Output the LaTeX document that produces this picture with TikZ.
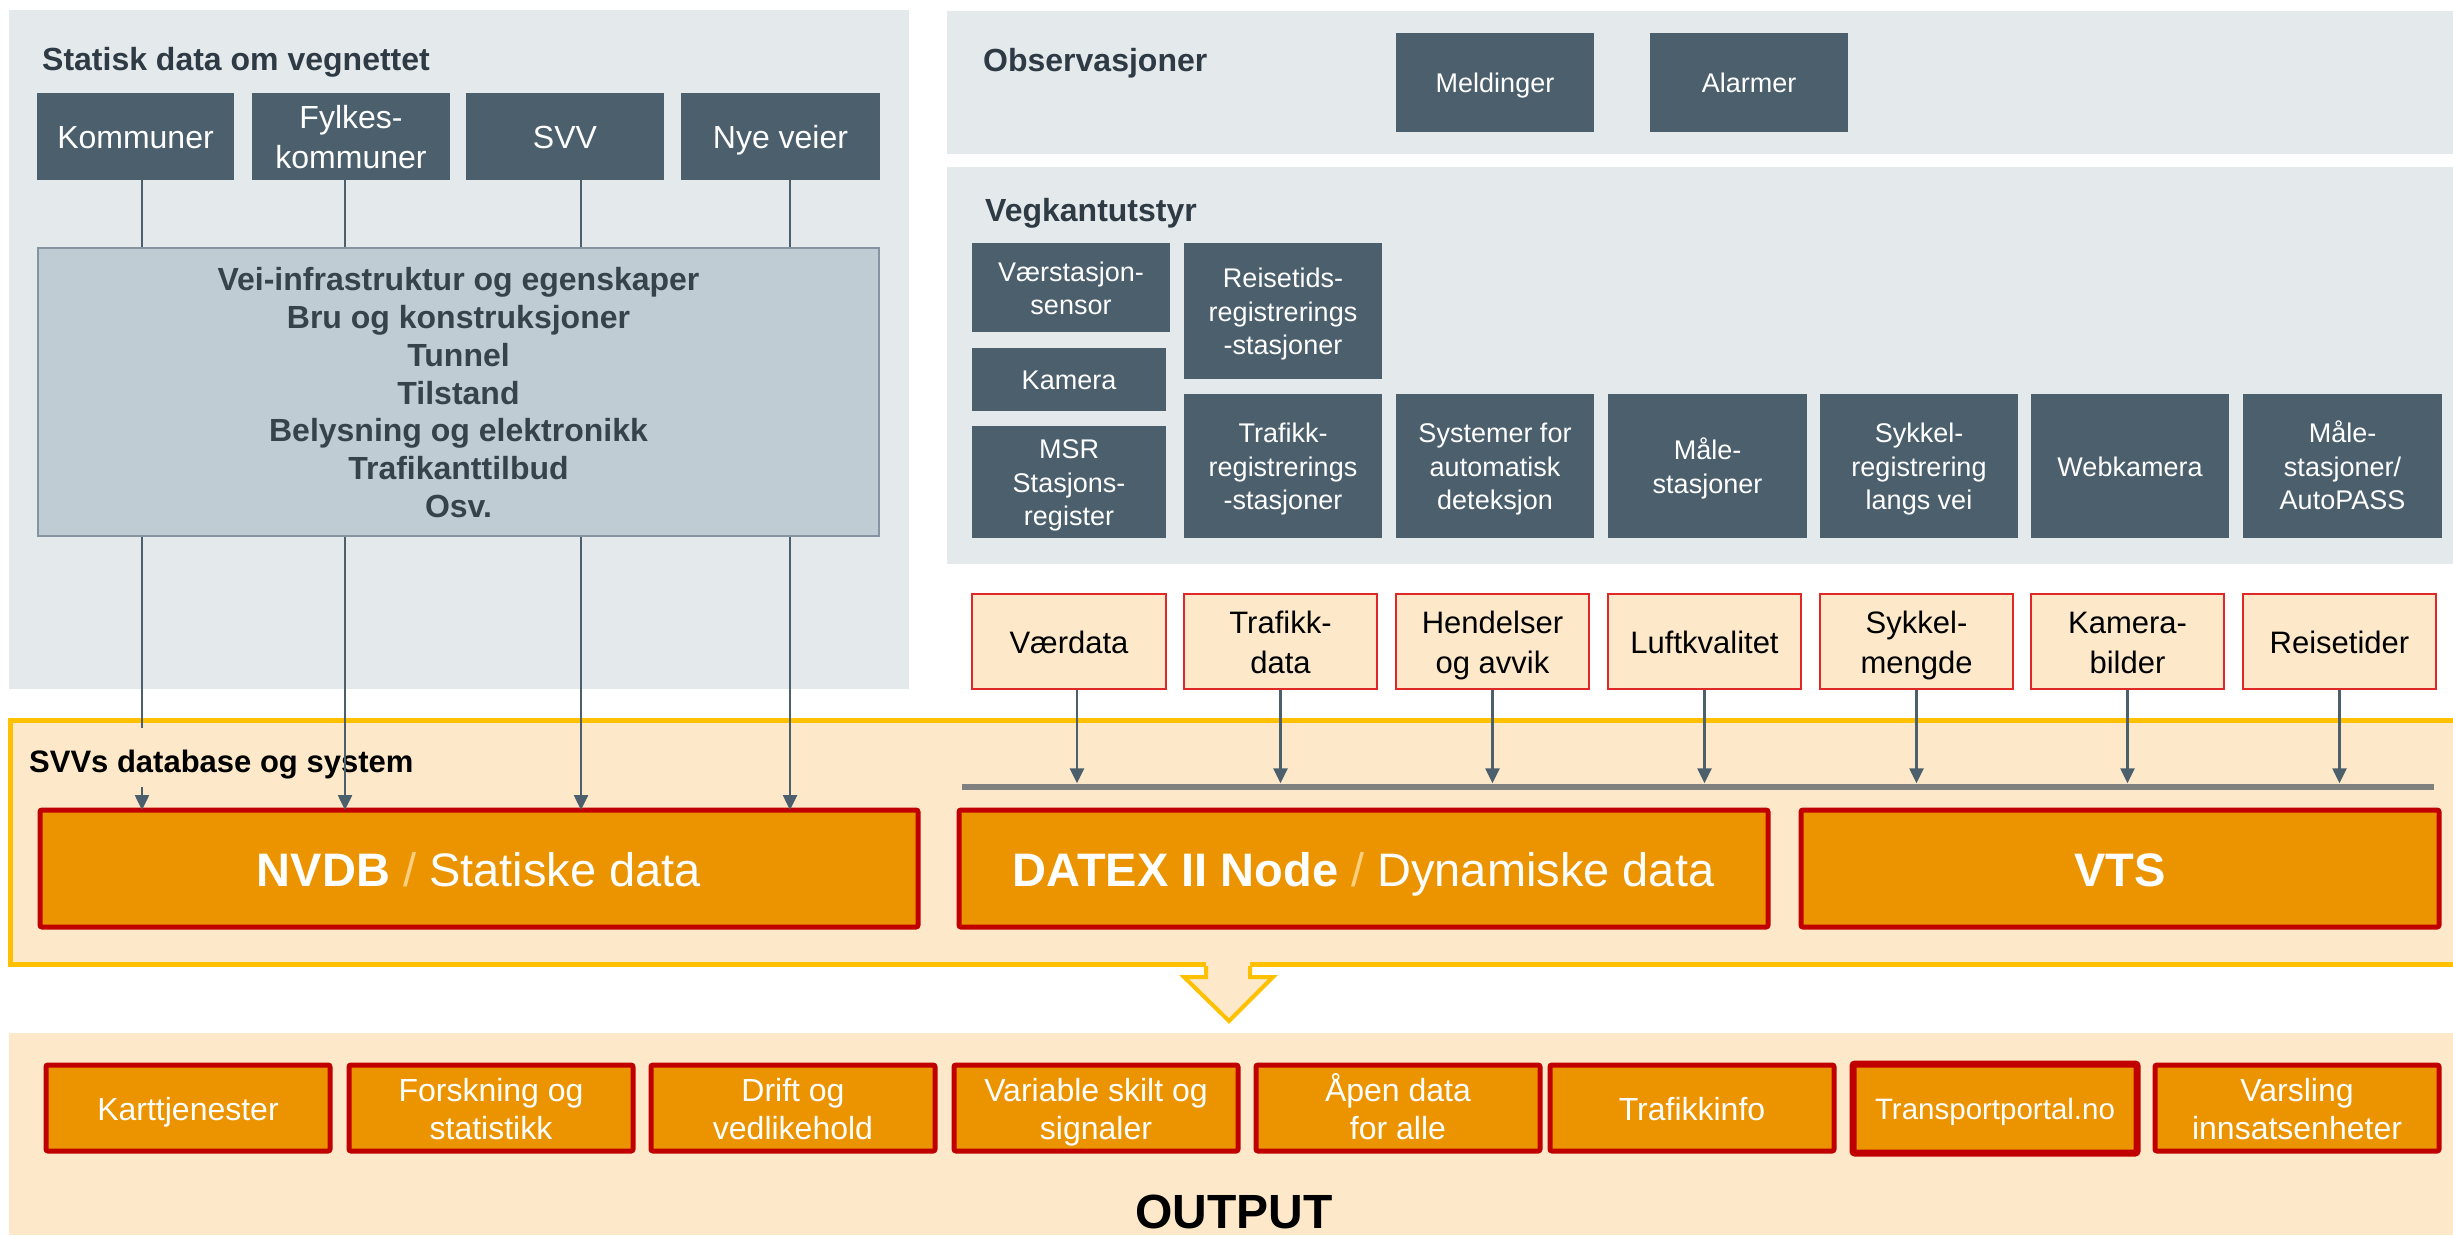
\documentclass[tikz,border=0pt]{standalone}
\usepackage{fontspec}
\setmainfont{Liberation Sans}
\usetikzlibrary{arrows.meta}
\definecolor{panel}{HTML}{E4E9EC}
\definecolor{slate}{HTML}{4B5F6D}
\definecolor{bigbox}{HTML}{BFCCD4}
\definecolor{bigborder}{HTML}{8494A0}
\definecolor{titletxt}{HTML}{2E3A44}
\definecolor{bigtxt}{HTML}{37434B}
\definecolor{peach}{HTML}{FDE9C9}
\definecolor{ybord}{HTML}{FFC000}
\definecolor{orangef}{HTML}{EC9400}
\definecolor{dred}{HTML}{C00000}
\definecolor{pbord}{HTML}{E02828}
\definecolor{barg}{HTML}{808080}
\definecolor{slashc}{HTML}{FFCF80}
\newcommand\tx[1]{\raisebox{-0.14em}[\height][\depth]{\begin{tabular}{@{}c@{}}#1\end{tabular}}}
\newcommand\mybox[7]{\node[#1, minimum width={#5-#3}, minimum height={#6-#4}] (#2) at ({(#3+#5)/2},{(#4+#6)/2}) {\tx{#7}};}
\begin{document}
\begin{tikzpicture}[x=1pt,y=-1pt,
  titlelbl/.style={anchor=base west, inner sep=0pt, font=\fontsize{32}{38}\selectfont\bfseries, text=titletxt},
  topbox/.style={fill=slate, text=white, inner sep=0pt, font=\fontsize{32}{40}\selectfont},
  darkbox/.style={fill=slate, text=white, inner sep=0pt, font=\fontsize{27}{33.5}\selectfont},
  bigboxst/.style={fill=bigbox, draw=bigborder, line width=2pt, inner sep=0pt, text=bigtxt, font=\fontsize{32}{37.8}\selectfont\bfseries},
  peachbox/.style={fill=peach, draw=pbord, line width=1.5pt, inner sep=0pt, text=black, font=\fontsize{31}{40}\selectfont},
  orangebig/.style={fill=orangef, draw=dred, line width=5pt, rounded corners=2pt, inner sep=0pt, text=white, font=\fontsize{47}{56}\selectfont},
  outbox/.style={fill=orangef, draw=dred, line width=5pt, rounded corners=2pt, inner sep=0pt, text=white, font=\fontsize{32}{38}\selectfont},
  conn/.style={draw=slate, line width=2.5pt},
  arr/.style={conn, -{Triangle[length=15pt,width=14pt]}}
]
\useasboundingbox (0,0) rectangle (2453,1235);
\clip (0,0) rectangle (2453,1235);
% panels
\fill[panel] (9,10) rectangle (909,689);
\fill[panel] (947,11) rectangle (2453,154);
\fill[panel] (947,167) rectangle (2453,564);
\draw[ybord, line width=5pt, fill=peach] (10,720) rectangle (2475,964);
\fill[peach] (9,1033) rectangle (2453,1235);
% titles
\node[titlelbl] (t1) at (42,70) {Statisk data om vegnettet};
\node[titlelbl] (t2) at (983,71) {Observasjoner};
\node[titlelbl] (t3) at (985,221) {Vegkantutstyr};
\node[titlelbl, text=black, font=\fontsize{31}{38}\selectfont\bfseries] (t4) at (29,772) {SVVs database og system};
% left top boxes
\mybox{topbox}{kom}{37}{93}{234}{180}{Kommuner}
\mybox{topbox}{fyl}{252}{93}{450}{180}{Fylkes-\\kommuner}
\mybox{topbox}{svv}{466}{93}{664}{180}{SVV}
\mybox{topbox}{nye}{681}{93}{880}{180}{Nye veier}
\mybox{bigboxst}{vei}{38}{248}{879}{536}{Vei-infrastruktur og egenskaper\\Bru og konstruksjoner\\Tunnel\\Tilstand\\Belysning og elektronikk\\Trafikanttilbud\\Osv.}
% connectors top
\draw[conn] (kom.south -| 142,0) -- (vei.north -| 142,0);
\draw[conn] (fyl.south -| 345,0) -- (vei.north -| 345,0);
\draw[conn] (svv.south -| 581,0) -- (vei.north -| 581,0);
\draw[conn] (nye.south -| 790,0) -- (vei.north -| 790,0);
% right dark boxes
\mybox{darkbox}{meld}{1396}{33}{1594}{132}{Meldinger}
\mybox{darkbox}{alarm}{1650}{33}{1848}{132}{Alarmer}
\mybox{darkbox}{vaer}{972}{243}{1170}{332}{Værstasjon-\\sensor}
\mybox{darkbox}{kam}{972}{348}{1166}{411}{Kamera}
\mybox{darkbox}{msr}{972}{426}{1166}{538}{MSR\\Stasjons-\\register}
\mybox{darkbox}{reis}{1184}{243}{1382}{379}{Reisetids-\\registrerings\\-stasjoner}
\mybox{darkbox}{traf}{1184}{394}{1382}{538}{Trafikk-\\registrerings\\-stasjoner}
\mybox{darkbox}{sys}{1396}{394}{1594}{538}{Systemer for\\automatisk\\deteksjon}
\mybox{darkbox}{male}{1608}{394}{1807}{538}{Måle-\\stasjoner}
\mybox{darkbox}{syk}{1820}{394}{2018}{538}{Sykkel-\\registrering\\langs vei}
\mybox{darkbox}{web}{2031}{394}{2229}{538}{Webkamera}
\mybox{darkbox}{auto}{2243}{394}{2442}{538}{Måle-\\stasjoner/\\AutoPASS}
% peach boxes
\mybox{peachbox}{pv}{972}{594}{1166}{689}{Værdata}
\mybox{peachbox}{ptr}{1184}{594}{1377}{689}{Trafikk-\\data}
\mybox{peachbox}{phe}{1396}{594}{1589}{689}{Hendelser\\og avvik}
\mybox{peachbox}{plu}{1608}{594}{1801}{689}{Luftkvalitet}
\mybox{peachbox}{psy}{1820}{594}{2013}{689}{Sykkel-\\mengde}
\mybox{peachbox}{pka}{2031}{594}{2224}{689}{Kamera-\\bilder}
\mybox{peachbox}{pre}{2243}{594}{2436}{689}{Reisetider}
% bar
\node[fill=barg, inner sep=0pt, minimum width=1472, minimum height=6] (bar) at (1698,786.5) {};
% arrows to bar
\draw[arr] ([xshift=8pt]pv.south) -- ([xshift=8pt]pv.south |- bar.north);
\foreach \n in {ptr,phe,plu,psy,pka,pre}{
  \draw[arr] (\n.south) -- (\n.south |- bar.north);
}
% big orange boxes
\mybox{orangebig}{nvdb}{40}{810}{918}{927}{{\bfseries NVDB} {\color{slashc}/} Statiske data}
\mybox{orangebig}{datex}{959}{810}{1768}{927}{{\bfseries DATEX II Node} {\color{slashc}/} Dynamiske data}
\mybox{orangebig}{vts}{1801}{810}{2439}{927}{\bfseries VTS}
% connectors to NVDB
\coordinate (gapa) at (142,728);
\coordinate (gapb) at (142,787);
\draw[conn] (vei.south -| gapa) -- (gapa);
\draw[arr] (gapb) -- ([yshift=-2.5pt]nvdb.north -| gapb);
\draw[arr] (vei.south -| 345,0) -- ([yshift=-2.5pt]nvdb.north -| 345,0);
\draw[arr] (vei.south -| 581,0) -- ([yshift=-2.5pt]nvdb.north -| 581,0);
\draw[arr] (vei.south -| 790,0) -- ([yshift=-2.5pt]nvdb.north -| 790,0);
% down arrow
\fill[peach] (1206,962) -- (1206,977) -- (1184,977) -- (1229,1021) -- (1273,977) -- (1250,977) -- (1250,962) -- cycle;
\draw[ybord, line width=4pt, line join=miter] (1206,966) -- (1206,977) -- (1184,977) -- (1229,1021) -- (1273,977) -- (1250,977) -- (1250,966);
% output boxes
\mybox{outbox}{o1}{46}{1065}{330}{1151}{Karttjenester}
\mybox{outbox}{o2}{349}{1065}{633}{1151}{Forskning og\\statistikk}
\mybox{outbox}{o3}{651}{1065}{935}{1151}{Drift og\\vedlikehold}
\mybox{outbox}{o4}{954}{1065}{1238}{1151}{Variable skilt og\\signaler}
\mybox{outbox}{o5}{1256}{1065}{1540}{1151}{Åpen data\\for alle}
\mybox{outbox}{o6}{1550}{1065}{1834}{1151}{Trafikkinfo}
\mybox{outbox, line width=7pt, font=\fontsize{29.5}{35}\selectfont}{o7}{1853}{1064}{2137}{1153}{Transportportal.no}
\mybox{outbox}{o8}{2155}{1065}{2439}{1151}{Varsling\\innsatsenheter}
\node[inner sep=0pt, font=\fontsize{48}{56}\selectfont\bfseries, text=black] (outlbl) at (1234,1212) {OUTPUT};
\end{tikzpicture}
\end{document}
